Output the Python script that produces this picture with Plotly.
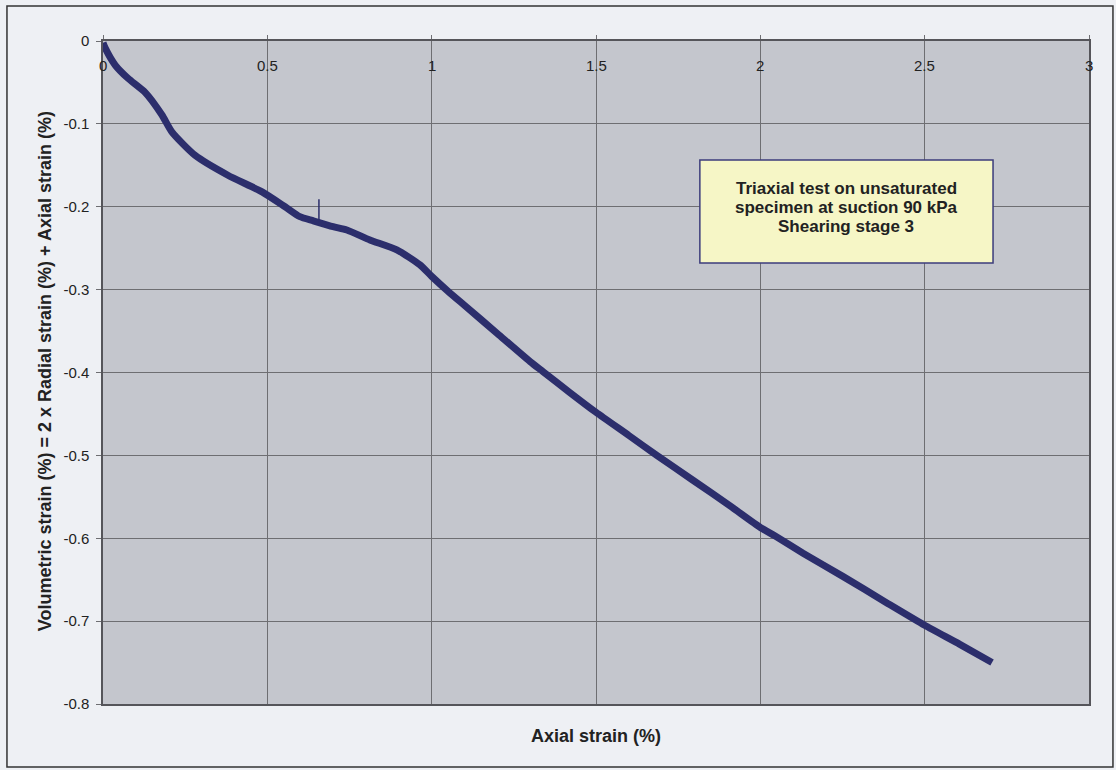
import plotly.graph_objects as go

# Axial strain (%) and volumetric strain (%)
axial_strain = [0.000, 0.006, 0.037, 0.076, 0.128, 0.179, 0.210, 0.280, 0.380, 0.484,
                0.554, 0.599, 0.640, 0.700, 0.742, 0.812, 0.894,
                0.964, 1.000, 1.050, 1.100, 1.200, 1.300, 1.339, 1.420, 1.500,
                1.600, 1.685, 1.795, 1.908, 2.000, 2.044, 2.130, 2.251, 2.385,
                2.500, 2.607, 2.705]
volumetric_strain = [-0.002, -0.008, -0.029, -0.045, -0.062, -0.089, -0.110, -0.138, -0.162, -0.182,
                     -0.200, -0.212, -0.217, -0.224, -0.228, -0.240, -0.252,
                     -0.270, -0.284, -0.302, -0.319, -0.353, -0.387, -0.399, -0.424, -0.448,
                     -0.476, -0.500, -0.530, -0.561, -0.587, -0.597, -0.618, -0.646, -0.678,
                     -0.705, -0.728, -0.750]

# single-reading spike near 0.66 % axial strain
spike_axial = [0.657, 0.657]
spike_volumetric = [-0.219, -0.191]

x_ticks = [0, 0.5, 1, 1.5, 2, 2.5, 3]
x_tick_text = ["0", "0.5", "1", "1.5", "2", "2.5", "3"]
y_ticks = [0, -0.1, -0.2, -0.3, -0.4, -0.5, -0.6, -0.7, -0.8]
y_tick_text = ["0", "-0.1", "-0.2", "-0.3", "-0.4", "-0.5", "-0.6", "-0.7", "-0.8"]

box_lines = ["Triaxial test on unsaturated", "specimen at suction 90 kPa", "Shearing stage 3"]

FONT = "Arial, Liberation Sans, sans-serif"
TEXT = "#222222"
GRID = "#6e6e72"
CURVE = "#2c2e6c"

fig = go.Figure()
fig.add_trace(go.Scatter(
    x=axial_strain, y=volumetric_strain, mode="lines",
    line=dict(color=CURVE, width=7, shape="spline", smoothing=0.6), showlegend=False,
))
fig.add_trace(go.Scatter(
    x=spike_axial, y=spike_volumetric, mode="lines",
    line=dict(color=CURVE, width=1.5), showlegend=False,
))

fig.update_layout(
    width=1116, height=770,
    margin=dict(l=103, r=27, t=41, b=66),
    paper_bgcolor="#eef0f4",
    plot_bgcolor="#c4c6cd",
    font=dict(family=FONT, color=TEXT, size=15),
    xaxis=dict(
        range=[0, 3], side="top", tickvals=x_ticks, showticklabels=False,
        ticks="outside", ticklen=4, tickcolor=GRID,
        showgrid=True, gridcolor=GRID, gridwidth=1,
        showline=True, linecolor="#55555a", linewidth=1.5, mirror=True,
        zeroline=False,
    ),
    yaxis=dict(
        range=[-0.8, 0], tickvals=y_ticks, ticktext=y_tick_text,
        tickfont=dict(size=15, family=FONT, color=TEXT),
        ticks="outside", ticklen=5, tickcolor=GRID, ticklabelstandoff=4,
        showgrid=True, gridcolor=GRID, gridwidth=1,
        showline=True, linecolor="#55555a", linewidth=1.5, mirror=True,
        zeroline=False,
    ),
)

# x tick labels sit just inside the top edge of the plot
for xv, label in zip(x_ticks, x_tick_text):
    fig.add_annotation(
        xref="x", yref="paper", x=xv, y=0.9638, xanchor="center", yanchor="middle",
        showarrow=False, text=label, font=dict(size=15, family=FONT, color=TEXT),
    )

# axis titles
fig.add_annotation(
    xref="paper", yref="paper", x=0.5, y=-0.0483, xanchor="center", yanchor="middle",
    showarrow=False, text="<b>Axial strain (%)</b>", font=dict(size=18, family=FONT, color=TEXT),
)
fig.add_annotation(
    xref="paper", yref="paper", x=-0.0588, y=0.502, xanchor="center", yanchor="middle",
    showarrow=False, textangle=-90,
    text="<b>Volumetric strain (%) = 2 x Radial strain (%) + Axial strain (%)</b>",
    font=dict(size=18, family=FONT, color=TEXT),
)

# outer frame around the whole chart
fig.add_shape(
    type="rect", xref="paper", yref="paper",
    x0=-0.0974, x1=1.0243, y0=-0.095, y1=1.0528,
    line=dict(color="#333333", width=1.5), fillcolor="rgba(0,0,0,0)", layer="below",
)

# test description box
fig.add_shape(
    type="rect", xref="x", yref="y",
    x0=1.816, x1=2.708, y0=-0.2678, y1=-0.1435,
    line=dict(color="#3c3c7c", width=1.5), fillcolor="#f6f6c6",
)
for i, line_text in enumerate(box_lines):
    fig.add_annotation(
        xref="x", yref="y", x=2.262, y=-0.1783 - i * 0.0229, xanchor="center", yanchor="middle",
        showarrow=False, text=f"<b>{line_text}</b>", font=dict(size=17, family=FONT, color=TEXT),
    )

fig.write_html("out.html")
